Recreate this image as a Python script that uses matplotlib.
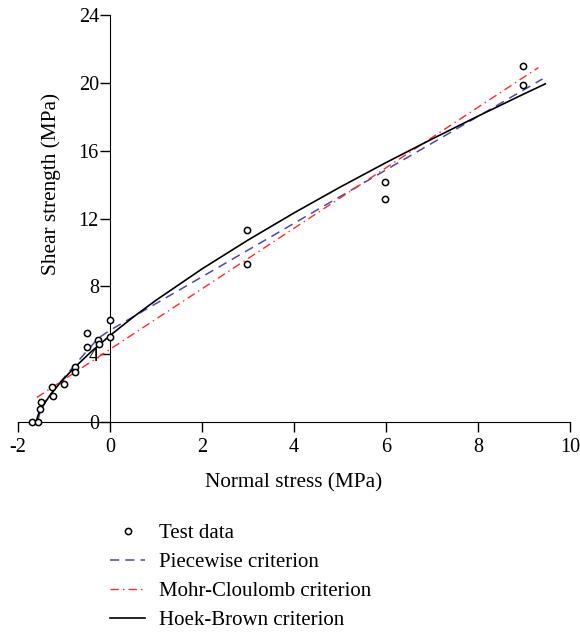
import matplotlib
matplotlib.use("Agg")
import matplotlib.pyplot as plt

# Test data
test_x = [-1.69, -1.56, -1.52, -1.50, -1.25, -1.23, -0.99, -0.76, -0.75, -0.49, -0.49,
          -0.27, -0.25, 0.0, 0.0, 2.98, 2.98, 5.98, 5.98, 8.97, 8.97]
test_y = [0.0, 0.0, 0.76, 1.19, 2.04, 1.55, 2.22, 3.25, 2.96, 5.22, 4.43,
          4.86, 4.59, 6.04, 5.02, 11.30, 9.33, 14.15, 13.15, 20.97, 19.86]

# Piecewise criterion
pw_x = [-1.58, -1.50, -1.35, -1.10, -0.80, -0.50, -0.25, 0.0, 9.40]
pw_y = [0.0, 0.75, 1.45, 2.30, 3.25, 4.20, 4.95, 5.41, 20.23]

# Mohr-Coulomb criterion (straight line)
mc_x = [-1.59, 9.31]
mc_y = [1.45, 20.90]

# Hoek-Brown criterion
hb_x = [-1.61, -1.55, -1.45, -1.30, -1.10, -0.80, -0.40, 0.0, 0.5, 1.0, 2.0,
        3.0, 4.0, 5.0, 6.0, 7.0, 8.0, 9.0, 9.46]
hb_y = [0.0, 0.50, 1.00, 1.59, 2.26, 3.14, 4.17, 5.10, 6.18, 7.18, 9.03,
        10.73, 12.33, 13.85, 15.30, 16.69, 18.04, 19.35, 19.94]

x_ticks = [-2, 0, 2, 4, 6, 8, 10]
y_ticks = [0, 4, 8, 12, 16, 20, 24]

plt.rcParams["font.family"] = ["Liberation Serif", "DejaVu Serif"]
plt.rcParams["axes.unicode_minus"] = False

fig = plt.figure(figsize=(5.8, 6.33), dpi=100)
ax = fig.add_axes([0.031, 0.3333, 0.952, 0.643])

ax.plot(test_x, test_y, linestyle="none", marker="o", markersize=4.5,
        markerfacecolor="white", markeredgecolor="black", markeredgewidth=1.1,
        label="Test data", clip_on=False, zorder=5)
ax.plot(pw_x, pw_y, color="#4a4aa8", linewidth=1.1, dashes=(6, 4),
        label="Piecewise criterion")
ax.plot(mc_x, mc_y, color="#ff2a2a", linewidth=1.0, dashes=(6, 3, 1, 3),
        label="Mohr-Cloulomb criterion")
ax.plot(hb_x, hb_y, color="black", linewidth=1.2, label="Hoek-Brown criterion")

ax.set_xlim(-2, 10)
ax.set_ylim(0, 24)
ax.spines["top"].set_visible(False)
ax.spines["right"].set_visible(False)
ax.spines["left"].set_position(("data", 0))
ax.spines["bottom"].set_position(("data", 0))
ax.set_xticks(x_ticks)
ax.set_yticks(y_ticks)
ax.tick_params(direction="out", length=7, width=1, labelsize=14.5)
ax.tick_params(axis="x", pad=4.5)
ax.tick_params(axis="y", pad=1)

ax.set_xlabel("Normal stress (MPa)", fontsize=15.3, labelpad=12)
fig.text(0.088, 0.709, "Shear strength (MPa)", rotation=90, fontsize=15.3,
         ha="center", va="center")

handles, labels = ax.get_legend_handles_labels()
fig.legend(handles, labels, loc="upper left", bbox_to_anchor=(0.176, 0.186),
           frameon=False, fontsize=15, handlelength=1.68, handletextpad=0.67,
           labelspacing=0.45, borderaxespad=0)

fig.savefig("out.png", dpi=100)
plt.close(fig)
